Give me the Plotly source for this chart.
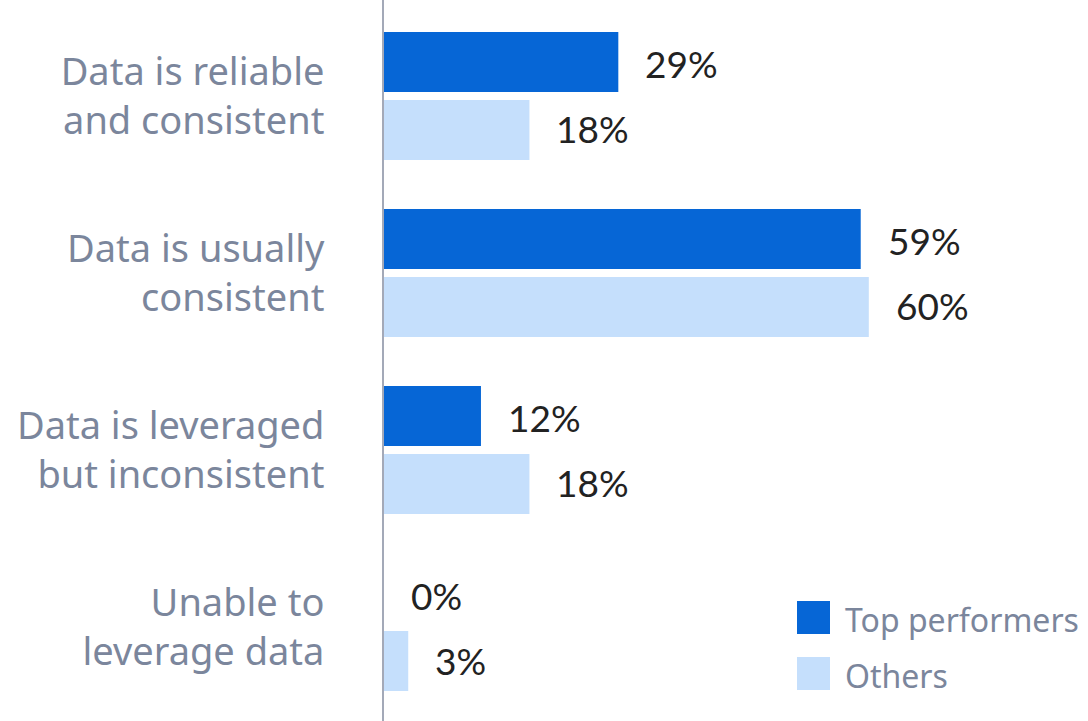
import plotly.graph_objects as go

categories = ["Data is reliable<br>and consistent", "Data is usually<br>consistent",
              "Data is leveraged<br>but inconsistent", "Unable to<br>leverage data"]
series_names = ["Top performers", "Others"]
top_values = [29, 59, 12, 0]
other_values = [18, 60, 18, 3]

colors = ["#0666d6", "#c5dffc"]
label_color = "#7b869c"
value_color = "#222222"

fig = go.Figure()
for name, vals, col in zip(series_names, [top_values, other_values], colors):
    fig.add_trace(go.Bar(y=categories, x=vals, name=name, orientation="h",
                         marker=dict(color=col, line=dict(width=0)),
                         showlegend=False, hoverinfo="skip"))

annotations = []
for vals, shift in [(top_values, 32), (other_values, -33)]:
    for c, v in zip(categories, vals):
        annotations.append(dict(x=v, y=c, xref="x", yref="y", text=f"{v}%",
                                showarrow=False, xanchor="left", yanchor="middle",
                                xshift=25, yshift=shift,
                                font=dict(family="Lato", size=37, color=value_color)))

# manual legend
W = 704.0
H = 721.0
shapes = []
legend_rows = [(601, 634), (657, 690)]
for (top, bot), col, name in zip(legend_rows, colors, series_names):
    shapes.append(dict(type="rect", xref="paper", yref="paper",
                       x0=(797 - 384) / W, x1=(830 - 384) / W,
                       y0=1 - bot / H, y1=1 - top / H,
                       fillcolor=col, line=dict(width=0)))
    annotations.append(dict(x=(843 - 384) / W, y=1 - (top + bot + 4) / 2 / H,
                            xref="paper", yref="paper", text=name, showarrow=False,
                            xanchor="left", yanchor="middle",
                            font=dict(family="Noto Sans", size=32, color=label_color)))

fig.update_layout(
    width=1088, height=721,
    margin=dict(l=384, r=0, t=0, b=0),
    paper_bgcolor="white", plot_bgcolor="white",
    barmode="group", bargap=0.232, bargroupgap=0.1176,
    xaxis=dict(range=[0, 704 / 8.08], showgrid=False, zeroline=False,
               showticklabels=False, showline=False),
    yaxis=dict(range=[3.531, -0.542], showgrid=False, zeroline=False,
               showline=True, linecolor="#a3a9b8", linewidth=2,
               ticks="", ticklabelstandoff=50,
               tickfont=dict(family="Noto Sans", size=38, color=label_color)),
    annotations=annotations, shapes=shapes,
)

fig.write_html("out.html")
